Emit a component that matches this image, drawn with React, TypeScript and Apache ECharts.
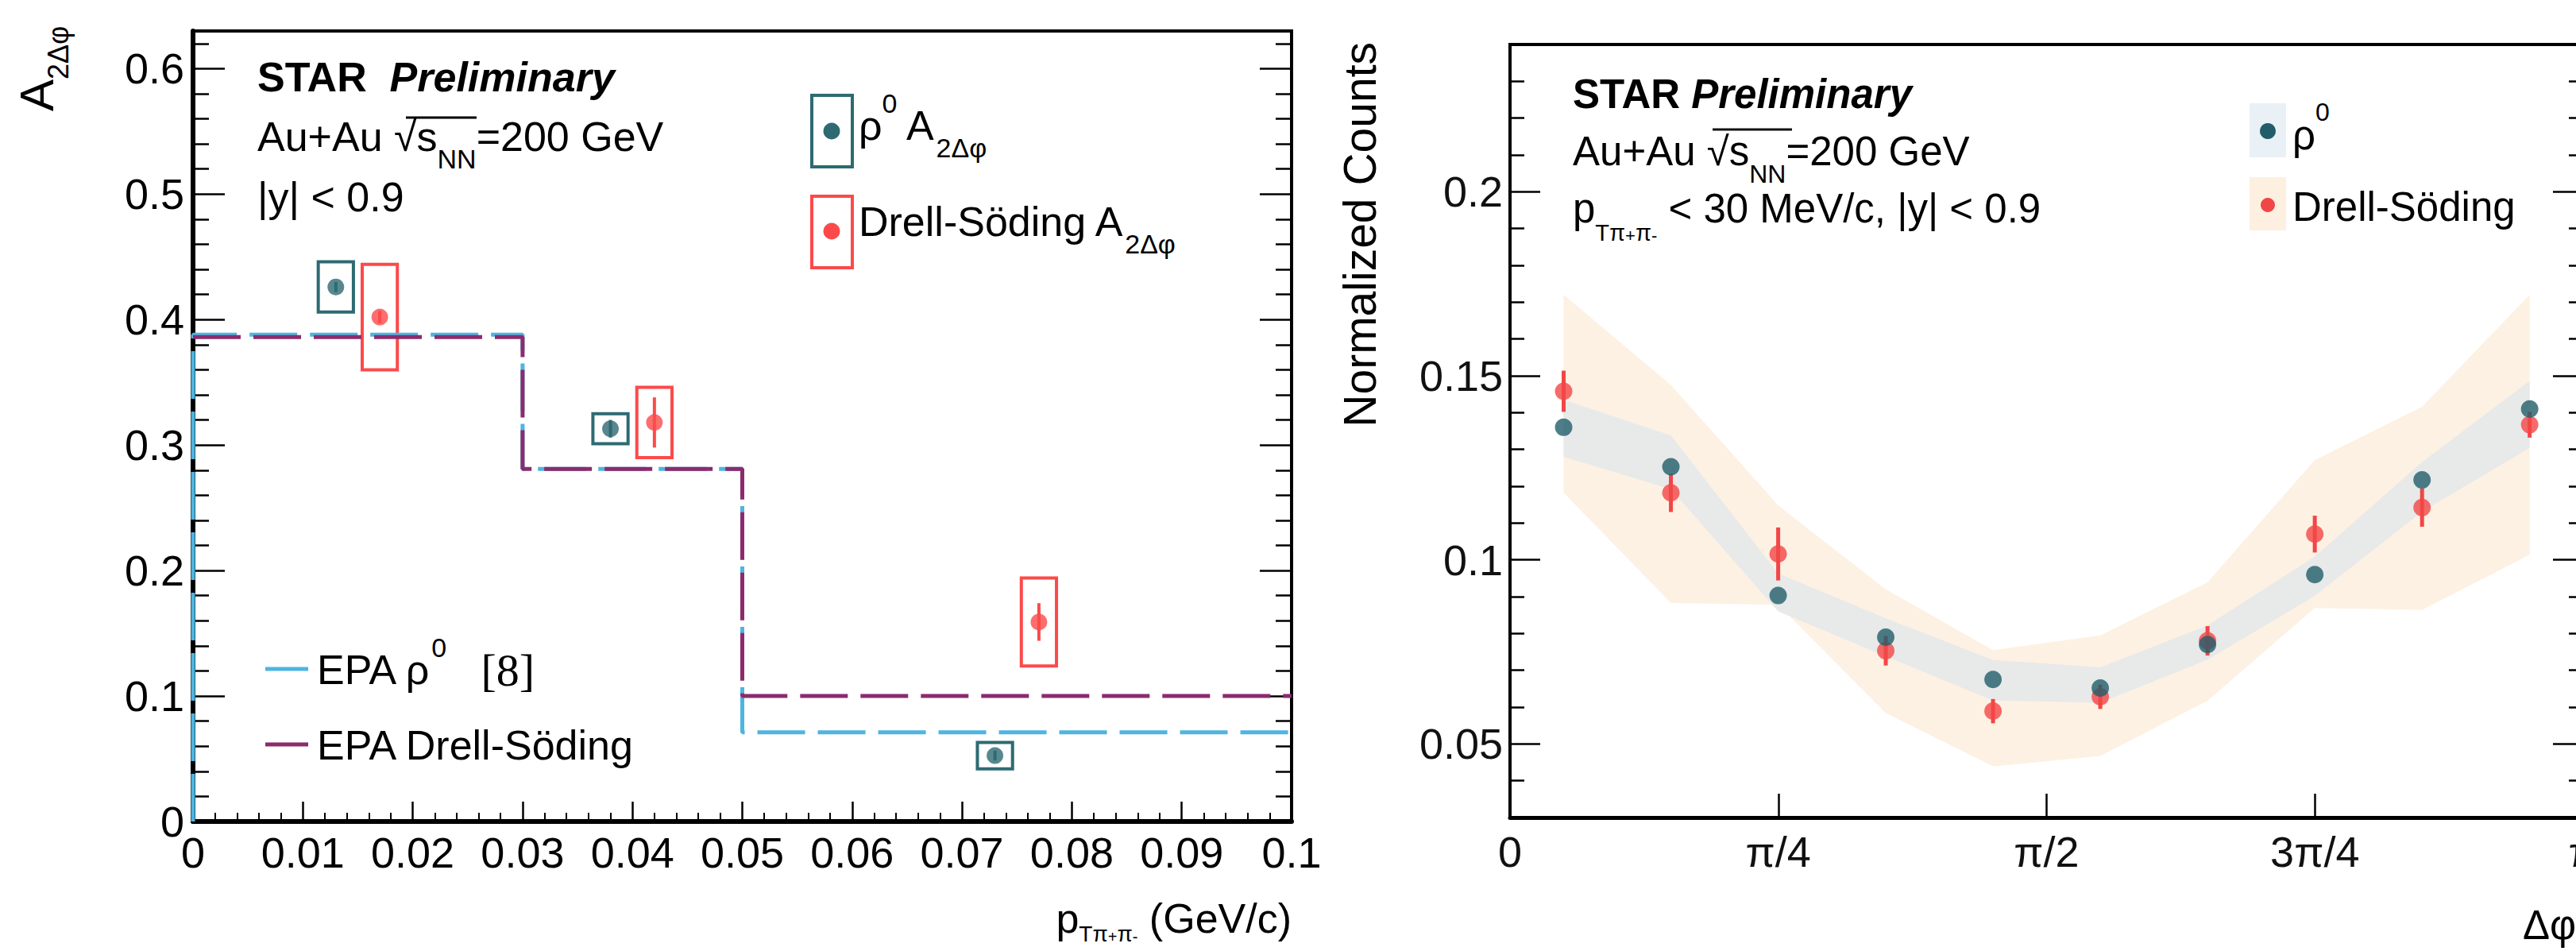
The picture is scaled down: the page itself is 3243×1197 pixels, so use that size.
import React, { useEffect, useRef } from 'react';
import * as echarts from 'echarts';

const FONT = '"Liberation Sans", Arial, Helvetica, sans-serif';
const SERIF = '"Liberation Serif", "Times New Roman", serif';

const TEAL_L = '#2e6a72';
const RED_L = '#fc4a4a';
const TEAL_R = '#215e6a';
const RED_R = '#f24646';
const EPA_BLUE = '#4fb4e0';
const EPA_PURPLE = '#8a2c6e';
const BAND_ORANGE = '#fdf1e3';
const BAND_GREY = '#e8e9e9';

// ---------------- Left panel: A_2Δφ vs pT ----------------
const ptTicks = [0, 0.01, 0.02, 0.03, 0.04, 0.05, 0.06, 0.07, 0.08, 0.09, 0.1];
const aTicks = [0, 0.1, 0.2, 0.3, 0.4, 0.5, 0.6];
const aMinorTicks = [0.02, 0.04, 0.06, 0.08, 0.12, 0.14, 0.16, 0.18, 0.22, 0.24, 0.26, 0.28, 0.32, 0.34, 0.36, 0.38, 0.42, 0.44, 0.46, 0.48, 0.52, 0.54, 0.56, 0.58, 0.62];

const rhoPt = [0.013, 0.038, 0.073];
const rhoA = [0.426, 0.313, 0.0525];
const rhoSys = [0.02, 0.012, 0.0105];
const rhoStat = [0.004, 0.007, 0.004];

const dsPt = [0.017, 0.042, 0.077];
const dsA = [0.402, 0.318, 0.159];
const dsSys = [0.042, 0.028, 0.035];
const dsStat = [0.005, 0.02, 0.015];

const BOX_HALF = 0.0016;

const epaEdges = [0, 0.03, 0.05, 0.1];
const epaRho = [0.388, 0.281, 0.071];
const epaDS = [0.386, 0.281, 0.1];

// ---------------- Right panel: Normalized counts vs Δφ ----------------
const phiTicks = [0, Math.PI / 4, Math.PI / 2, (3 * Math.PI) / 4, Math.PI];
const phiTickLabels = ['0', 'π/4', 'π/2', '3π/4', 'π'];
const countTicks = [0.05, 0.1, 0.15, 0.2];
const countMinorTicks = [0.04, 0.06, 0.07, 0.08, 0.09, 0.11, 0.12, 0.13, 0.14, 0.16, 0.17, 0.18, 0.19, 0.21, 0.22, 0.23];

const phiBins = [0.157, 0.471, 0.785, 1.1, 1.414, 1.728, 2.042, 2.356, 2.67, 2.985];
const rhoCounts = [0.136, 0.1253, 0.0903, 0.079, 0.0675, 0.0652, 0.077, 0.096, 0.1217, 0.141];
const dsCounts = [0.1458, 0.1182, 0.1016, 0.0753, 0.0589, 0.0628, 0.078, 0.107, 0.1142, 0.1367];
const dsCountsErr = [0.0056, 0.0052, 0.0072, 0.004, 0.0033, 0.0033, 0.004, 0.005, 0.0052, 0.0035];

const rhoBandHi = [0.1435, 0.1338, 0.0963, 0.0841, 0.0728, 0.0708, 0.0822, 0.1009, 0.1266, 0.1486];
const rhoBandLo = [0.128, 0.1192, 0.086, 0.0738, 0.0618, 0.0612, 0.0729, 0.0902, 0.1131, 0.1304];
const dsBandHi = [0.172, 0.1475, 0.1148, 0.092, 0.0755, 0.0795, 0.0939, 0.1271, 0.1416, 0.172];
const dsBandLo = [0.1182, 0.0883, 0.0878, 0.0584, 0.0439, 0.0467, 0.0617, 0.0869, 0.0864, 0.1014];

function stepPoints(edges: number[], vals: number[], fromZero: boolean) {
  const pts: number[][] = [];
  if (fromZero) pts.push([edges[0], 0]);
  vals.forEach((v, i) => {
    pts.push([edges[i], v]);
    pts.push([edges[i + 1], v]);
  });
  return pts;
}

function boxSeries(xs: number[], ys: number[], sys: number[], color: string) {
  return {
    type: 'custom',
    xAxisIndex: 0,
    yAxisIndex: 0,
    z: 4,
    silent: true,
    encode: { x: 0, y: 1 },
    data: xs.map((x, i) => [x, ys[i], sys[i]]),
    renderItem: (params: any, api: any) => {
      const x = api.value(0);
      const y = api.value(1);
      const s = api.value(2);
      const a = api.coord([x - BOX_HALF, y + s]);
      const b = api.coord([x + BOX_HALF, y - s]);
      return {
        type: 'rect',
        shape: { x: a[0], y: a[1], width: b[0] - a[0], height: b[1] - a[1] },
        style: { fill: 'none', stroke: color, lineWidth: 4 },
      };
    },
  };
}

function errSeries(xs: number[], ys: number[], errs: number[], color: string, xi: number, yi: number, w: number) {
  return {
    type: 'custom',
    xAxisIndex: xi,
    yAxisIndex: yi,
    z: 5,
    silent: true,
    encode: { x: 0, y: 1 },
    data: xs.map((x, i) => [x, ys[i], errs[i]]),
    renderItem: (params: any, api: any) => {
      const x = api.value(0);
      const y = api.value(1);
      const e = api.value(2);
      const a = api.coord([x, y - e]);
      const b = api.coord([x, y + e]);
      return {
        type: 'line',
        shape: { x1: a[0], y1: a[1], x2: b[0], y2: b[1] },
        style: { stroke: color, lineWidth: w },
      };
    },
  };
}

function bandSeries(hi: number[], lo: number[], color: string, z: number) {
  return {
    type: 'custom',
    xAxisIndex: 2,
    yAxisIndex: 4,
    z,
    silent: true,
    encode: { x: 0, y: 1 },
    data: phiBins.map((x, i) => [x, hi[i], lo[i]]),
    renderItem: (params: any, api: any) => {
      if (params.dataIndex !== 0) return null;
      const pts: number[][] = [];
      for (let i = 0; i < phiBins.length; i++) pts.push(api.coord([phiBins[i], hi[i]]));
      for (let i = phiBins.length - 1; i >= 0; i--) pts.push(api.coord([phiBins[i], lo[i]]));
      return { type: 'polygon', shape: { points: pts }, style: { fill: color } };
    },
  };
}

const tickLine = { color: '#000', width: 2.5 };

function hiddenAxis(gridIndex: number, min: number, max: number) {
  return { type: 'value', gridIndex, min, max, show: false };
}

function tickAxis(gridIndex: number, pos: string, min: number, max: number, ticks: number[], len: number, extra: any = {}) {
  return {
    type: 'value',
    gridIndex,
    position: pos,
    min,
    max,
    axisLine: { show: false, onZero: false },
    splitLine: { show: false },
    axisTick: { show: true, inside: true, length: len, customValues: ticks, lineStyle: tickLine },
    axisLabel: { show: false },
    ...extra,
  };
}

const richLeft: any = {
  m: { fontSize: 52, lineHeight: 90, fontFamily: FONT, color: '#000' },
  b: { fontSize: 52, lineHeight: 90, fontFamily: FONT, fontWeight: 'bold', color: '#000' },
  bi: { fontSize: 52, lineHeight: 90, fontFamily: FONT, fontWeight: 'bold', fontStyle: 'italic', color: '#000' },
  nn: { fontSize: 34, lineHeight: 32, fontFamily: FONT, verticalAlign: 'bottom', color: '#000' },
  sub2: { fontSize: 34, lineHeight: 38, fontFamily: FONT, verticalAlign: 'bottom', color: '#000' },
  sub3: { fontSize: 34, lineHeight: 14, fontFamily: FONT, verticalAlign: 'bottom', color: '#000' },
  sup: { fontSize: 34, lineHeight: 62, fontFamily: FONT, verticalAlign: 'top', color: '#000' },
  serif: { fontSize: 58, lineHeight: 90, fontFamily: SERIF, color: '#000' },
  A: { fontSize: 60, lineHeight: 90, fontFamily: FONT, color: '#000' },
  Asub: { fontSize: 36, lineHeight: 54, fontFamily: FONT, verticalAlign: 'bottom', color: '#000' },
};

const richXTitle: any = {
  m: { fontSize: 52, lineHeight: 66, fontFamily: FONT, color: '#000' },
  ps: { fontSize: 28, lineHeight: 28, fontFamily: FONT, verticalAlign: 'bottom', color: '#000' },
  pss: { fontSize: 20, lineHeight: 44, fontFamily: FONT, verticalAlign: 'bottom', color: '#000' },
};

const richRight: any = {
  m: { fontSize: 51, lineHeight: 90, fontFamily: FONT, color: '#111' },
  b: { fontSize: 51, lineHeight: 90, fontFamily: FONT, fontWeight: 'bold', color: '#111' },
  bi: { fontSize: 51, lineHeight: 90, fontFamily: FONT, fontWeight: 'bold', fontStyle: 'italic', color: '#111' },
  nn: { fontSize: 32, lineHeight: 48, fontFamily: FONT, verticalAlign: 'bottom', color: '#111' },
  ps: { fontSize: 29, lineHeight: 24, fontFamily: FONT, verticalAlign: 'bottom', color: '#111' },
  pss: { fontSize: 22, lineHeight: 40, fontFamily: FONT, verticalAlign: 'bottom', color: '#111' },
  sup: { fontSize: 32, lineHeight: 54, fontFamily: FONT, verticalAlign: 'top', color: '#111' },
  nc: { fontSize: 57, lineHeight: 90, fontFamily: FONT, color: '#111' },
};

function txt(x: number, y: number, text: string, rich: any, extra: any = {}) {
  const align = extra.align || 'left';
  return {
    type: 'text',
    x,
    y,
    z: 100,
    rotation: extra.rotation || 0,
    style: {
      text,
      rich,
      fontFamily: FONT,
      fontSize: 52,
      fill: '#000',
      align,
      textAlign: align,
      verticalAlign: 'middle',
      textVerticalAlign: 'middle',
    },
  };
}

function rect(x: number, y: number, w: number, h: number, style: any) {
  return { type: 'rect', z: 100, shape: { x, y, width: w, height: h }, style };
}
function circle(cx: number, cy: number, r: number, fill: string) {
  return { type: 'circle', z: 101, shape: { cx, cy, r }, style: { fill } };
}
function hline(x1: number, x2: number, y: number, color: string, w: number) {
  return { type: 'line', z: 100, shape: { x1, y1: y, x2, y2: y }, style: { stroke: color, lineWidth: w } };
}

export default function App() {
  const ref = useRef<HTMLDivElement>(null);

  useEffect(() => {
    if (!ref.current) return;
    const chart = echarts.init(ref.current, null, { renderer: 'svg' });

    const labelStyle = { fontSize: 54, fontFamily: FONT, color: '#000' };
    const labelStyleR = { fontSize: 54, fontFamily: FONT, color: '#111' };

    const gridBase = { outerBoundsMode: 'none', containLabel: false };

    const option: any = {
      animation: false,
      backgroundColor: '#fff',
      grid: [
        { ...gridBase, left: 243, top: 39, width: 1383, height: 995, show: true, borderColor: '#000', borderWidth: 4, backgroundColor: 'transparent' },
        { ...gridBase, left: 243, top: 39, width: 1383, height: 995, show: false },
        { ...gridBase, left: 1901, top: 56, width: 1351, height: 973, show: true, borderColor: '#000', borderWidth: 4, backgroundColor: 'transparent' },
        { ...gridBase, left: 1901, top: 56, width: 1351, height: 973, show: false },
      ],
      xAxis: [
        {
          type: 'value',
          gridIndex: 0,
          position: 'bottom',
          min: 0,
          max: 0.1,
          interval: 0.01,
          axisLine: { show: true, onZero: false, lineStyle: { color: '#000', width: 6 } },
          splitLine: { show: false },
          axisTick: { show: true, inside: true, length: 25, customValues: ptTicks, lineStyle: tickLine },
          minorTick: { show: true, splitNumber: 5, length: 11, lineStyle: { color: '#000', width: 2 } },
          axisLabel: {
            show: true,
            customValues: ptTicks,
            margin: 12,
            ...labelStyle,
            formatter: (v: number) => (v === 0 ? '0' : String(+v.toFixed(2))),
          },
        },
        hiddenAxis(1, 0, 0.1),
        {
          type: 'value',
          gridIndex: 2,
          position: 'bottom',
          min: 0,
          max: Math.PI,
          axisLine: { show: true, onZero: false, lineStyle: { color: '#000', width: 5 } },
          splitLine: { show: false },
          axisTick: { show: true, inside: true, length: 30, customValues: phiTicks, lineStyle: tickLine },
          axisLabel: {
            show: true,
            customValues: phiTicks,
            margin: 16,
            ...labelStyleR,
            formatter: (v: number) => phiTickLabels[Math.round(v / (Math.PI / 4))] ?? '',
          },
        },
        hiddenAxis(3, 0, Math.PI),
      ],
      yAxis: [
        tickAxis(0, 'left', 0, 0.63, aTicks, 40, {
          axisLine: { show: true, onZero: false, lineStyle: { color: '#000', width: 6 } },
          axisLabel: {
            show: true,
            customValues: aTicks,
            margin: 11,
            ...labelStyle,
            formatter: (v: number) => (v === 0 ? '0' : String(+v.toFixed(1))),
          },
        }),
        tickAxis(0, 'right', 0, 0.63, aTicks, 40, {
          axisLine: { show: true, onZero: false, lineStyle: { color: '#000', width: 4 } },
        }),
        tickAxis(1, 'left', 0, 0.63, aMinorTicks, 20),
        tickAxis(1, 'right', 0, 0.63, aMinorTicks, 20),
        tickAxis(2, 'left', 0.03, 0.24, countTicks, 38, {
          axisLine: { show: true, onZero: false, lineStyle: { color: '#000', width: 4 } },
          axisLabel: {
            show: true,
            customValues: countTicks,
            margin: 9,
            ...labelStyleR,
            formatter: (v: number) => String(+v.toFixed(2)),
          },
        }),
        tickAxis(2, 'right', 0.03, 0.24, countTicks, 38, {
          axisLine: { show: true, onZero: false, lineStyle: { color: '#000', width: 4 } },
        }),
        tickAxis(3, 'left', 0.03, 0.24, countMinorTicks, 18),
        tickAxis(3, 'right', 0.03, 0.24, countMinorTicks, 18),
      ],
      series: [
        // ---- left panel ----
        boxSeries(rhoPt, rhoA, rhoSys, TEAL_L),
        boxSeries(dsPt, dsA, dsSys, RED_L),
        {
          type: 'line',
          xAxisIndex: 0,
          yAxisIndex: 0,
          z: 6,
          silent: true,
          showSymbol: false,
          data: stepPoints(epaEdges, epaRho, true),
          lineStyle: { color: EPA_BLUE, width: 5, type: [60, 16] },
        },
        {
          type: 'line',
          xAxisIndex: 0,
          yAxisIndex: 0,
          z: 6,
          silent: true,
          showSymbol: false,
          data: stepPoints(epaEdges, epaDS, false),
          lineStyle: { color: EPA_PURPLE, width: 5, type: [60, 16] },
        },
        errSeries(dsPt, dsA, dsStat, RED_L, 0, 0, 4),
        errSeries(rhoPt, rhoA, rhoStat, TEAL_L, 0, 0, 4),
        {
          type: 'scatter',
          xAxisIndex: 0,
          yAxisIndex: 0,
          z: 8,
          silent: true,
          symbol: 'circle',
          symbolSize: 21,
          itemStyle: { color: RED_L },
          data: dsPt.map((x, i) => [x, dsA[i]]),
        },
        {
          type: 'scatter',
          xAxisIndex: 0,
          yAxisIndex: 0,
          z: 8,
          silent: true,
          symbol: 'circle',
          symbolSize: 21,
          itemStyle: { color: TEAL_L },
          data: rhoPt.map((x, i) => [x, rhoA[i]]),
        },
        // ---- right panel ----
        bandSeries(dsBandHi, dsBandLo, BAND_ORANGE, 2),
        bandSeries(rhoBandHi, rhoBandLo, BAND_GREY, 3),
        errSeries(phiBins, dsCounts, dsCountsErr, RED_R, 2, 4, 5),
        {
          type: 'scatter',
          xAxisIndex: 2,
          yAxisIndex: 4,
          z: 8,
          silent: true,
          symbol: 'circle',
          symbolSize: 22,
          itemStyle: { color: RED_R },
          data: phiBins.map((x, i) => [x, dsCounts[i]]),
        },
        {
          type: 'scatter',
          xAxisIndex: 2,
          yAxisIndex: 4,
          z: 9,
          silent: true,
          symbol: 'circle',
          symbolSize: 22,
          itemStyle: { color: TEAL_R },
          data: phiBins.map((x, i) => [x, rhoCounts[i]]),
        },
      ],
      graphic: {
        elements: [
          // left y title
          txt(46, 140, '{A|A}{Asub|2Δφ}', richLeft, { rotation: Math.PI / 2 }),
          // left texts
          txt(324, 97, '{b|STAR}{m|  }{bi|Preliminary}', richLeft),
          txt(324, 172, '{m|Au+Au √s}{nn|NN}{m|=200 GeV}', richLeft),
          hline(511, 600, 148, '#000', 3),
          txt(324, 248, '{m||y| < 0.9}', richLeft),
          // left legend (data)
          rect(1022, 120, 51, 90, { fill: 'none', stroke: TEAL_L, lineWidth: 4 }),
          circle(1047, 165, 10.5, TEAL_L),
          txt(1081, 158, '{m|ρ}{sup|0}{m| A}{sub2|2Δφ}', richLeft),
          rect(1022, 247, 51, 90, { fill: 'none', stroke: RED_L, lineWidth: 4 }),
          circle(1047, 291, 10.5, RED_L),
          txt(1081, 279, '{m|Drell-Söding A}{sub3|2Δφ}', richLeft),
          // left legend (EPA)
          hline(334, 388, 842, EPA_BLUE, 5),
          txt(399, 843, '{m|EPA ρ}{sup|0}{m|   }{serif|[8]}', richLeft),
          hline(334, 388, 937, EPA_PURPLE, 5),
          txt(399, 938, '{m|EPA Drell-Söding}', richLeft),
          // left x title
          txt(1626, 1156, '{m|p}{ps|Tπ}{pss|+}{ps|π}{pss|-}{m| (GeV/c)}', richXTitle, { align: 'right' }),
          // right y title
          txt(1712, 53, '{nc|Normalized Counts}', richRight, { rotation: Math.PI / 2, align: 'right' }),
          // right texts
          txt(1980, 118, '{b|STAR }{bi|Preliminary}', richRight),
          txt(1980, 190, '{m|Au+Au √s}{nn|NN}{m|=200 GeV}', richRight),
          hline(2156, 2256, 163, '#111', 3),
          txt(1980, 262, '{m|p}{ps|Tπ}{pss|+}{ps|π}{pss|-}{m| < 30 MeV/c, |y| < 0.9}', richRight),
          // right legend
          rect(2832, 130, 46, 68, { fill: '#e9f0f6' }),
          circle(2855, 165, 10, TEAL_R),
          txt(2886, 170, '{m|ρ}{sup|0}', richRight),
          rect(2832, 223, 46, 67, { fill: '#fdf0e0' }),
          circle(2855, 258, 9, RED_R),
          txt(2886, 260, '{m|Drell-Söding}', richRight),
          // right x title
          txt(3176, 1164, '{m|Δφ}', richRight),
        ],
      },
    };

    chart.setOption(option);
    return () => chart.dispose();
  }, []);

  return (
    <div
      ref={ref}
      style={{ position: 'fixed', left: 0, top: 0, width: 3243, height: 1197, background: '#fff' }}
    />
  );
}
